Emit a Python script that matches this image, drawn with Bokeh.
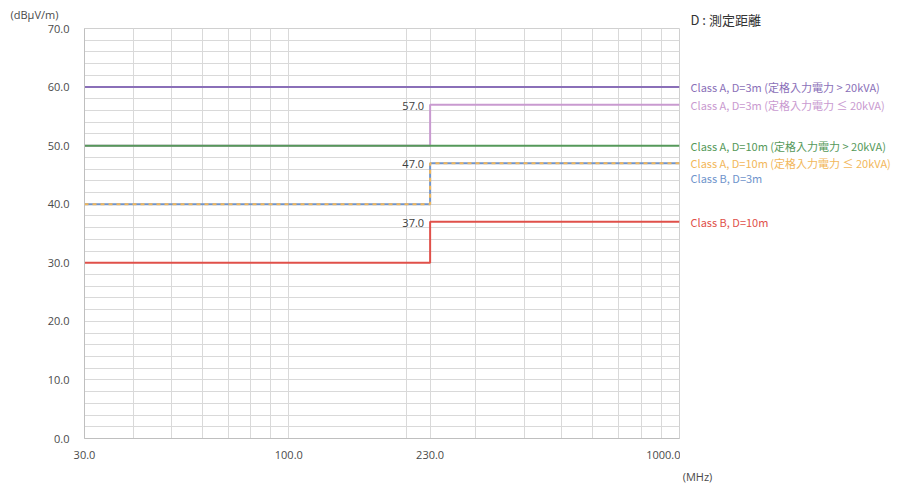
from bokeh.plotting import figure
from bokeh.models import FixedTicker, PrintfTickFormatter, Label, LinearAxis
from bokeh.layouts import row
from bokeh.core.properties import value
from bokeh.embed import file_html
from bokeh.resources import INLINE

# ---- data ----
freq_edges = [30, 230, 1000]          # MHz, band edges
x_ticks = [30, 100, 230, 1000]
x_grid = [40, 50, 60, 70, 80, 90, 100, 200, 230, 300, 400, 500, 600, 700, 800, 900, 1000]
y_ticks = [0, 10, 20, 30, 40, 50, 60, 70]

series_names = [
    "Class A, D=3m (定格入力電力 > 20kVA)",
    "Class A, D=3m (定格入力電力 ≤ 20kVA)",
    "Class A, D=10m (定格入力電力 > 20kVA)",
    "Class A, D=10m (定格入力電力 ≤ 20kVA)",
    "Class B, D=3m",
    "Class B, D=10m",
]
a3_high = [60.0, 60.0]
a3_low = [50.0, 57.0]
a10_high = [50.0, 50.0]
a10_low = [40.0, 47.0]
b3 = [40.0, 47.0]
b10 = [30.0, 37.0]
step_labels = [57.0, 47.0, 37.0]
label_y = [60.0, 57.0, 50.0, 47.0, 44.5, 37.0]

colors = ["#8a6fb8", "#c99ad0", "#55995a", "#f2b75a", "#6f94cc", "#e0504a"]

FONT = "Open Sans"
JP = "Noto Sans CJK JP"
TXT = "#4a4a4a"

H = 486
TOP, BOTTOM = 28, 48

p = figure(width=680, height=H, x_axis_type="log", x_range=(30, 1000), y_range=(0, 70),
           output_backend="svg", toolbar_location=None,
           min_border_left=84, min_border_right=1, min_border_top=TOP, min_border_bottom=BOTTOM)
p.outline_line_color = "#d0d0d0"
p.background_fill_color = "white"

# units title at top-left
p.title.text = "(dBμV/m)"
p.title.align = "left"
p.title.offset = -74
p.title.text_font = FONT
p.title.text_font_size = "11px"
p.title.text_font_style = "normal"
p.title.text_color = TXT
p.title.standoff = 10
p.title.vertical_align = "top"

# axes
p.xaxis.ticker = FixedTicker(ticks=x_ticks, minor_ticks=[])
p.yaxis.ticker = FixedTicker(ticks=y_ticks, minor_ticks=[])
for ax in (p.xaxis[0], p.yaxis[0]):
    ax.formatter = PrintfTickFormatter(format="%.1f")
    ax.major_tick_line_color = None
    ax.minor_tick_line_color = None
    ax.axis_line_color = "#bfbfbf"
    ax.major_label_text_font = FONT
    ax.major_label_text_font_size = "11px"
    ax.major_label_text_color = TXT
p.xaxis.major_label_standoff = 6
p.yaxis.major_label_standoff = 9

p.xgrid.ticker = FixedTicker(ticks=x_grid)
p.ygrid.ticker = FixedTicker(ticks=list(range(0, 71, 2)))
p.xgrid.grid_line_color = "#d9d9d9"
p.ygrid.grid_line_color = "#d9d9d9"


def steps(vals):
    return vals + [vals[-1]]


p.step(freq_edges, steps(a3_high), mode="after", line_color=colors[0], line_width=2)
p.step(freq_edges, steps(a3_low), mode="after", line_color=colors[1], line_width=2)
p.step(freq_edges, steps(a10_high), mode="after", line_color=colors[2], line_width=2)
p.step(freq_edges, steps(b3), mode="after", line_color=colors[4], line_width=2)
p.step(freq_edges, steps(a10_low), mode="after", line_color=colors[3], line_width=2, line_dash="4 4")
p.step(freq_edges, steps(b10), mode="after", line_color=colors[5], line_width=2)

# value labels at the step
for v in step_labels:
    p.add_layout(Label(x=freq_edges[1], y=v, x_offset=-6, y_offset=-1, text=f"{v:.1f}",
                       text_align="right", text_baseline="middle", text_font=FONT,
                       text_font_size="11px", text_color="#404040"))

# right-hand panel with the series names, sharing the vertical scale
PW = 212
p2 = figure(width=PW, height=H, x_range=(0, PW), y_range=p.y_range,
            output_backend="svg", toolbar_location=None,
            x_axis_location=None, y_axis_location=None,
            min_border_left=0, min_border_right=0, min_border_top=TOP, min_border_bottom=BOTTOM)
p2.outline_line_color = None
p2.grid.visible = False

p2.text(x=[10] * len(series_names), y=label_y, text=series_names, text_color=colors,
        text_align="left", text_baseline="middle", text_font=value(JP), text_font_size="11px")

# "D : 測定距離" header above the names
p2.title.text = "D : 測定距離"
p2.title.align = "left"
p2.title.offset = 10
p2.title.text_font = JP
p2.title.text_font_size = "13px"
p2.title.text_font_style = "normal"
p2.title.text_color = "#333333"
p2.title.standoff = 0
p2.title.vertical_align = "bottom"

# unit of the frequency axis, placed under the right end of the axis
unit_pos = 17
unit_axis = LinearAxis(ticker=FixedTicker(ticks=[unit_pos], minor_ticks=[]),
                       major_label_overrides={unit_pos: "(MHz)"},
                       axis_line_color=None, major_tick_line_color=None,
                       minor_tick_line_color=None, major_tick_out=0, major_tick_in=0,
                       major_label_standoff=30,
                       major_label_text_font=FONT, major_label_text_font_size="11px",
                       major_label_text_color=TXT)
p2.add_layout(unit_axis, "below")

layout = row(p, p2, spacing=0)
open("out.html", "w").write(file_html(layout, INLINE))
